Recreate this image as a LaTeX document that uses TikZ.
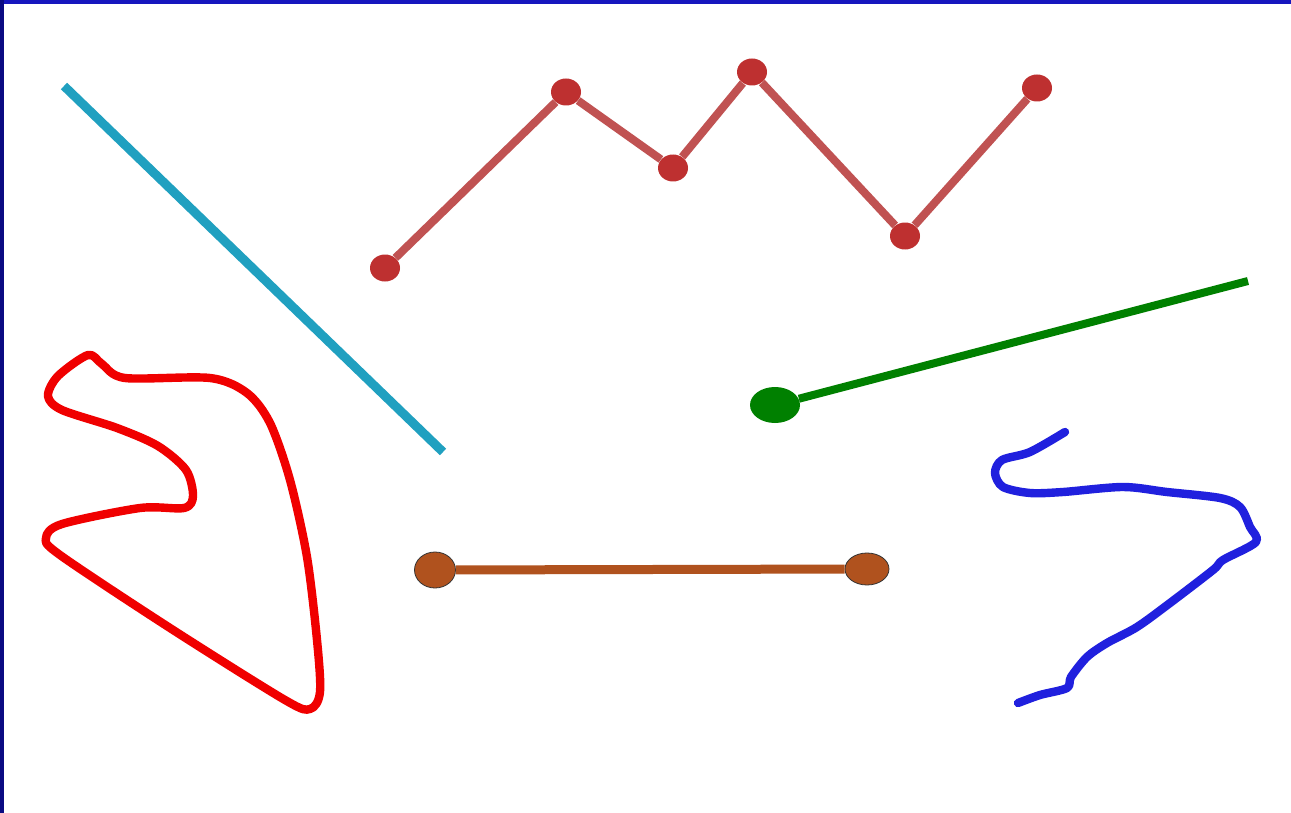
\documentclass[tikz,border=0pt]{standalone}
\usepackage{tikz}
\usetikzlibrary{shapes.geometric}

\definecolor{frameblue}{RGB}{22,22,190}
\definecolor{framenavy}{RGB}{10,10,130}
\definecolor{lineteal}{RGB}{32,160,192}
\definecolor{zigline}{RGB}{192,82,82}
\definecolor{zigdot}{RGB}{190,48,48}
\definecolor{rayg}{RGB}{0,128,0}
\definecolor{segbrown}{RGB}{176,82,30}
\definecolor{penred}{RGB}{240,0,0}
\definecolor{penblue}{RGB}{32,32,222}

\begin{document}
\begin{tikzpicture}[x=0.5pt, y=-0.5pt,
    zigpt/.style={ellipse, fill=zigdot, inner sep=0pt, minimum width=15pt, minimum height=13.5pt},
    endpt/.style={ellipse, fill=segbrown, draw=black!80, line width=0.4pt, inner sep=0pt},
    zig/.style={zigline, line width=4pt},
    pen/.style={line width=4.2pt, line cap=round, line join=round}]
    \useasboundingbox (0,0) rectangle (1291,813);
    \fill[white] (0,0) rectangle (1291,813);

    % Frame (top and left only)
    \fill[frameblue] (0,0) rectangle (1291,4);
    \fill[framenavy] (0,0) rectangle (4,813);

    % Straight line
    \draw[lineteal, line width=4.5pt] (64,86) -- (443,452);

    % Polyline
    \node[zigpt] (z1) at (385,268) {};
    \node[zigpt] (z2) at (566,92) {};
    \node[zigpt] (z3) at (673,168) {};
    \node[zigpt] (z4) at (752,72) {};
    \node[zigpt] (z5) at (905,236) {};
    \node[zigpt] (z6) at (1037,88) {};
    \draw[zig] (z1) -- (z2);
    \draw[zig] (z2) -- (z3);
    \draw[zig] (z3) -- (z4);
    \draw[zig] (z4) -- (z5);
    \draw[zig] (z5) -- (z6);

    % Ray
    \node[ellipse, fill=rayg, inner sep=0pt, minimum width=25pt, minimum height=18pt] (rayo) at (775,405) {};
    \coordinate (rayend) at (1248,281);
    \draw[rayg, line width=4pt] (rayo) -- (rayend);

    % Segment
    \node[endpt, minimum width=20.5pt, minimum height=18pt] (sega) at (435,570) {};
    \node[endpt, minimum width=22pt, minimum height=16pt] (segb) at (867,569) {};
    \draw[segbrown, line width=4.5pt] (sega) -- (segb);

    % Closed curve
    \draw[penred, pen] plot[smooth cycle, tension=0.5] coordinates {
      (88,355) (102,364) (125,378) (210,378) (247,393) (270,423) (290,480)
      (307,557) (317,640) (320,692) (310,709) (285,700) (170,628) (60,555)
      (46,538) (62,524) (140,508) (184,508) (193,496) (186,470) (158,446)
      (117,428) (62,410) (48,396) (58,376)};

    % Open curve
    \draw[penblue, pen] plot[smooth, tension=0.5] coordinates {
      (1065,432) (1030,452) (1002,460) (995,473) (1003,487) (1030,493)
      (1063,492) (1123,487) (1167,492) (1220,498) (1240,507) (1250,527)
      (1256,542) (1223,560) (1213,570) (1170,603) (1137,627) (1107,643)
      (1087,657) (1071,677) (1067,688) (1040,695) (1018,703)};
\end{tikzpicture}
\end{document}
